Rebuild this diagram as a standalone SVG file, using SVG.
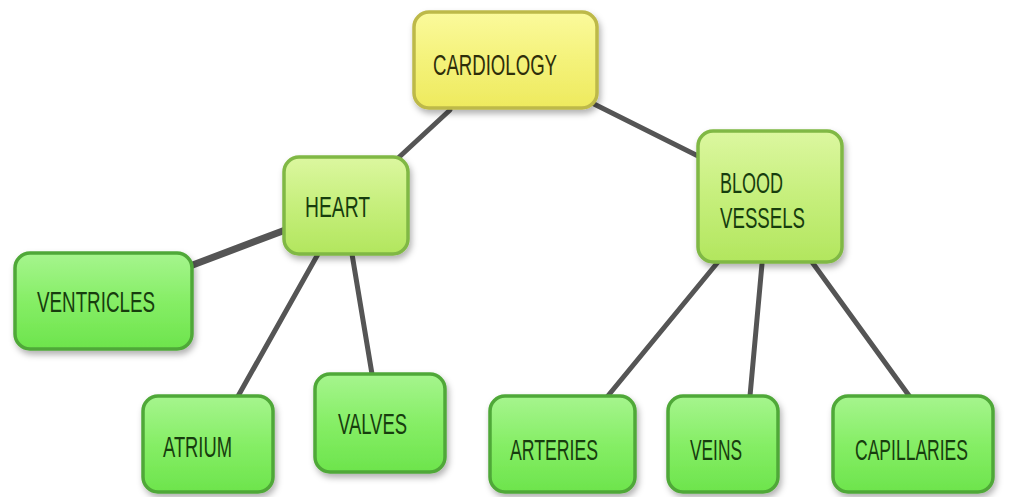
<svg xmlns="http://www.w3.org/2000/svg" width="1034" height="497" viewBox="0 0 1034 497">
<defs>
<linearGradient id="gY" x1="0" y1="0" x2="0" y2="1">
<stop offset="0" stop-color="#fbfa9c"/><stop offset="0.5" stop-color="#f4f27a"/><stop offset="1" stop-color="#eeea5e"/>
</linearGradient>
<linearGradient id="gL" x1="0" y1="0" x2="0" y2="1">
<stop offset="0" stop-color="#dcf7a0"/><stop offset="0.5" stop-color="#c6ef7c"/><stop offset="1" stop-color="#b2e65e"/>
</linearGradient>
<linearGradient id="gG" x1="0" y1="0" x2="0" y2="1">
<stop offset="0" stop-color="#a6f58e"/><stop offset="0.5" stop-color="#86ee66"/><stop offset="1" stop-color="#6de44c"/>
</linearGradient>
<filter id="sh" x="-10%" y="-10%" width="130%" height="140%">
<feDropShadow dx="2" dy="4" stdDeviation="3" flood-color="#000" flood-opacity="0.3"/>
</filter>
<style>
.n{filter:url(#sh);stroke-width:3.5}
.y{fill:url(#gY);stroke:#bdb948}
.l{fill:url(#gL);stroke:#80b844}
.g{fill:url(#gG);stroke:#4fa838}
.t{font-family:"Liberation Sans",Arial,sans-serif;font-size:29px}
.ty{fill:#2e2e0a}
.tg{fill:#173d0e}
.c line{stroke:#555;stroke-width:5;stroke-linecap:round}
</style>
</defs>
<rect width="1034" height="497" fill="#fff"/>
<g class="c" id="connectors">
<line x1="450" y1="110" x2="396" y2="160"/>
<line x1="594" y1="104" x2="702" y2="158"/>
<line x1="288" y1="229" x2="190" y2="266" style="stroke-width:7"/>
<line x1="318" y1="254" x2="237" y2="398"/>
<line x1="352" y1="254" x2="372" y2="374"/>
<line x1="718" y1="262" x2="607" y2="397"/>
<line x1="762" y1="264" x2="750" y2="396"/>
<line x1="812" y1="262" x2="910" y2="397"/>
</g>
<g id="cardiology"><rect class="n y" x="414" y="12" width="183" height="96" rx="15"/><text class="t ty" x="433" y="75" textLength="124" lengthAdjust="spacingAndGlyphs">CARDIOLOGY</text></g>
<g id="heart"><rect class="n l" x="284" y="157" width="124" height="97" rx="15"/><text class="t tg" x="305" y="217" textLength="65" lengthAdjust="spacingAndGlyphs">HEART</text></g>
<g id="bloodvessels"><rect class="n l" x="698" y="131" width="144" height="131" rx="15"/><text class="t tg" x="720" y="193" textLength="63" lengthAdjust="spacingAndGlyphs">BLOOD</text><text class="t tg" x="720" y="228" textLength="85" lengthAdjust="spacingAndGlyphs">VESSELS</text></g>
<g id="ventricles"><rect class="n g" x="15" y="253" width="177" height="96" rx="15"/><text class="t tg" x="37" y="312" textLength="118" lengthAdjust="spacingAndGlyphs">VENTRICLES</text></g>
<g id="atrium"><rect class="n g" x="143" y="396" width="130" height="96" rx="15"/><text class="t tg" x="163" y="457" textLength="69" lengthAdjust="spacingAndGlyphs">ATRIUM</text></g>
<g id="valves"><rect class="n g" x="315" y="374" width="130" height="98" rx="15"/><text class="t tg" x="338" y="434" textLength="69" lengthAdjust="spacingAndGlyphs">VALVES</text></g>
<g id="arteries"><rect class="n g" x="490" y="396" width="145" height="96" rx="15"/><text class="t tg" x="510" y="460" textLength="88" lengthAdjust="spacingAndGlyphs">ARTERIES</text></g>
<g id="veins"><rect class="n g" x="668" y="396" width="110" height="96" rx="15"/><text class="t tg" x="690" y="460" textLength="52" lengthAdjust="spacingAndGlyphs">VEINS</text></g>
<g id="capillaries"><rect class="n g" x="833" y="396" width="160" height="96" rx="15"/><text class="t tg" x="855" y="460" textLength="113" lengthAdjust="spacingAndGlyphs">CAPILLARIES</text></g>
</svg>
